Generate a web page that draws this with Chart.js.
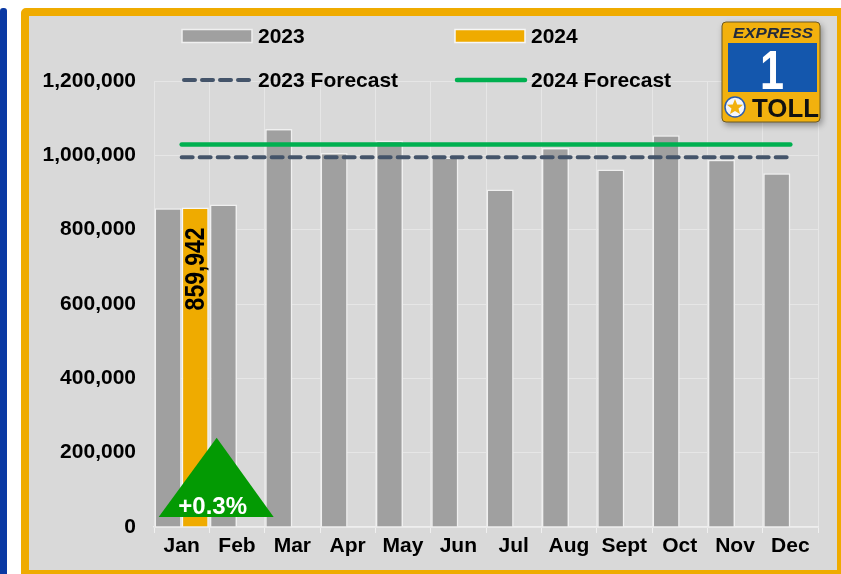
<!DOCTYPE html>
<html>
<head>
<meta charset="utf-8">
<title>Monthly Transactions</title>
<script src="https://cdn.jsdelivr.net/npm/chart.js@4"></script>
<style>
  html, body { margin: 0; padding: 0; background: #fff; overflow: hidden; }
  body { width: 841px; height: 574px; position: relative; font-family: "Liberation Sans", Arial, sans-serif; }
  #edge { position: absolute; left: 0; top: 8px; width: 7px; height: 580px; background: #0a39a3; border-radius: 3px 3px 0 0; }
  #frame { position: absolute; left: 21px; top: 8px; width: 824px; height: 570px; box-sizing: border-box;
           border: 8px solid #efab00; border-radius: 5px; background: #d9d9d9; }
  #chart { position: absolute; left: 0; top: 0; }
  #logo { position: absolute; left: 720px; top: 20px; filter: drop-shadow(2px 3px 3px rgba(0,0,0,0.35)); }
</style>
</head>
<body>
<div id="edge"></div>
<div id="frame"></div>
<canvas id="chart" width="841" height="574"></canvas>
<svg id="logo" width="106" height="108" viewBox="0 0 106 108">
  <rect x="2" y="2" width="98" height="100" rx="4" fill="#f2b10e" stroke="#6d5a24" stroke-width="1"/>
  <text x="13" y="18" font-family="Liberation Sans, Arial, sans-serif" font-size="15" font-weight="bold"
        font-style="italic" fill="#222b3d" textLength="80" lengthAdjust="spacingAndGlyphs">EXPRESS</text>
  <rect x="8" y="23" width="89" height="49" fill="#1457ad"/>
  <text x="52" y="69" text-anchor="middle" font-family="Liberation Sans, Arial, sans-serif" font-size="55"
        font-weight="bold" fill="#ffffff" textLength="24" lengthAdjust="spacingAndGlyphs">1</text>
  <circle cx="15" cy="87" r="10" fill="#f4f6fb" stroke="#2a5db0" stroke-width="1.5"/>
  <polygon points="15,79 17.2,84.5 23,84.8 18.5,88.5 20,94 15,91 10,94 11.5,88.5 7,84.8 12.8,84.5" fill="#f2b10e"/>
  <text x="32" y="97" font-family="Liberation Sans, Arial, sans-serif" font-size="25" font-weight="bold"
        fill="#111111" textLength="67" lengthAdjust="spacingAndGlyphs">TOLL</text>
</svg>
<script>
const months = ["Jan", "Feb", "Mar", "Apr", "May", "Jun", "Jul", "Aug", "Sept", "Oct", "Nov", "Dec"];

const values2023 = [857400, 868000, 1071000, 1006000, 1040000, 994000, 908000, 1020000, 962000, 1054000, 988000, 952000];
const values2024 = [859942, null, null, null, null, null, null, null, null, null, null, null];

const forecast2023 = [995000, 995000, 995000, 995000, 995000, 995000, 995000, 995000, 995000, 995000, 995000, 995000];
const forecast2024 = [1029000, 1029000, 1029000, 1029000, 1029000, 1029000, 1029000, 1029000, 1029000, 1029000, 1029000, 1029000];

const yTicks = [0, 200000, 400000, 600000, 800000, 1000000, 1200000];

const changeLabel = "+0.3%";
const changeMarkerTop = 240000;
const changeMarkerBase = 27000;

const FONT = '"Liberation Sans", Arial, sans-serif';
const GOLD = "#efab00";
const GREY_BAR = "#a0a0a0";

// 2 x 2 legend above the plot
const gridLegend = {
  id: "gridLegend",
  afterDraw(chart) {
    const ctx = chart.ctx;
    const cols = [182, 455];
    const rows = [36.5, 80];
    chart.data.datasets.forEach((ds, i) => {
      const x = cols[i % 2];
      const y = rows[Math.floor(i / 2)];
      ctx.save();
      if (ds.type === "line") {
        ctx.strokeStyle = ds.borderColor;
        ctx.lineWidth = ds.borderWidth;
        ctx.lineCap = "round";
        ctx.setLineDash(ds.borderDash || []);
        ctx.beginPath();
        ctx.moveTo(x + 2, y);
        ctx.lineTo(x + 70, y);
        ctx.stroke();
      } else {
        ctx.fillStyle = ds.backgroundColor;
        ctx.fillRect(x, y - 7, 70, 13);
        ctx.strokeStyle = ds.borderColor;
        ctx.lineWidth = 1.5;
        ctx.strokeRect(x, y - 7, 70, 13);
      }
      ctx.setLineDash([]);
      ctx.fillStyle = "#000";
      ctx.font = "bold 21px " + FONT;
      ctx.textBaseline = "middle";
      ctx.textAlign = "left";
      ctx.fillText(ds.label, x + 76, y + 1);
      ctx.restore();
    });
  },
};

// rotated value label inside the 2024 bar
const barValueLabel = {
  id: "barValueLabel",
  afterDatasetsDraw(chart) {
    const ctx = chart.ctx;
    const meta = chart.getDatasetMeta(1);
    meta.data.forEach((bar, i) => {
      const v = values2024[i];
      if (v == null) return;
      ctx.save();
      ctx.translate(bar.x + 1, bar.y + 20);
      ctx.rotate(-Math.PI / 2);
      ctx.scale(0.82, 1);
      ctx.font = "bold 28px " + FONT;
      ctx.fillStyle = "#000";
      ctx.textAlign = "right";
      ctx.textBaseline = "middle";
      ctx.fillText(v.toLocaleString("en-US"), 0, 0);
      ctx.restore();
    });
  },
};

// green up-arrow with the year-over-year change
const changeMarker = {
  id: "changeMarker",
  afterDatasetsDraw(chart) {
    const ctx = chart.ctx;
    const xs = chart.scales.x;
    const ys = chart.scales.y;
    const cx = xs.getPixelForValue(0);
    const top = ys.getPixelForValue(changeMarkerTop);
    const base = ys.getPixelForValue(changeMarkerBase);
    ctx.save();
    ctx.fillStyle = "#039a03";
    ctx.beginPath();
    ctx.moveTo(cx + 35, top);
    ctx.lineTo(cx + 92, base);
    ctx.lineTo(cx - 23, base);
    ctx.closePath();
    ctx.fill();
    ctx.fillStyle = "#fff";
    ctx.font = "bold 24px " + FONT;
    ctx.textAlign = "center";
    ctx.textBaseline = "middle";
    ctx.fillText(changeLabel, cx + 31, base - 10);
    ctx.restore();
  },
};

new Chart(document.getElementById("chart"), {
  type: "bar",
  data: {
    labels: months,
    datasets: [
      {
        label: "2023",
        data: values2023,
        backgroundColor: GREY_BAR,
        borderColor: "#f0f0f0",
        borderWidth: 1.5,
        categoryPercentage: 0.98,
        barPercentage: 1,
        order: 2,
      },
      {
        label: "2024",
        data: values2024,
        backgroundColor: GOLD,
        borderColor: "#f7f7f7",
        borderWidth: 1.5,
        categoryPercentage: 0.98,
        barPercentage: 1,
        order: 2,
      },
      {
        type: "line",
        label: "2023 Forecast",
        data: forecast2023,
        borderColor: "#44546a",
        borderWidth: 4,
        borderDash: [11, 7],
        borderCapStyle: "round",
        pointRadius: 0,
        fill: false,
        order: 1,
      },
      {
        type: "line",
        label: "2024 Forecast",
        data: forecast2024,
        borderColor: "#00b050",
        borderWidth: 4.5,
        borderCapStyle: "round",
        pointRadius: 0,
        fill: false,
        order: 0,
      },
    ],
  },
  options: {
    responsive: false,
    animation: false,
    devicePixelRatio: 1,
    layout: { padding: { left: 0, right: 23, top: 81, bottom: 0 } },
    plugins: {
      legend: { display: false },
      tooltip: { enabled: false },
    },
    scales: {
      x: {
        offset: true,
        grid: { offset: true, color: "#e6e6e6", lineWidth: 1, tickLength: 6, tickColor: "#f0f0f0" },
        border: { display: true, color: "#eeeeee", width: 1.5 },
        ticks: { color: "#000", font: { family: FONT, size: 21, weight: "bold" }, padding: 1 },
        afterFit(scale) { scale.height = 47; },
      },
      y: {
        min: 0,
        max: 1200000,
        afterBuildTicks(scale) { scale.ticks = yTicks.map((v) => ({ value: v })); },
        grid: { color: "#e6e6e6", lineWidth: 1, drawTicks: false },
        border: { display: true, color: "#e6e6e6" },
        ticks: {
          color: "#000",
          font: { family: FONT, size: 21, weight: "bold" },
          padding: 18,
          callback: (v) => Number(v).toLocaleString("en-US"),
        },
        afterFit(scale) { scale.width = 154; },
      },
    },
  },
  plugins: [gridLegend, barValueLabel, changeMarker],
});
</script>
</body>
</html>
